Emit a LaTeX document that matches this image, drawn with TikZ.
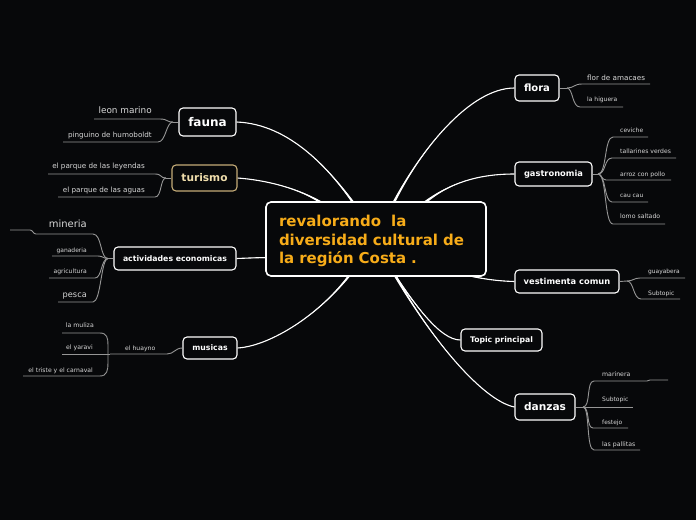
\documentclass[tikz,border=0pt]{standalone}
\usepackage{fontspec}
\setmainfont{DejaVu Sans}
\usetikzlibrary{backgrounds,calc}
\definecolor{bgc}{RGB}{7,8,10}
\definecolor{gold}{RGB}{247,172,25}
\definecolor{tanb}{RGB}{196,172,120}
\definecolor{tant}{RGB}{240,222,172}
\definecolor{subt}{RGB}{215,215,215}
\definecolor{lineg}{RGB}{150,150,150}
\newcommand\fsz[1]{\fontsize{#1pt}{#1pt}\selectfont}
\newcommand\taper[6]{%
  \fill[white] #1 .. controls #2 and #3 .. ($#4+(#5,#6)$) -- ($#4-(#5,#6)$) .. controls #3 and #2 .. #1 -- cycle;
  \draw[white,line width=1.1pt] #1 .. controls #2 and #3 .. #4;}
\begin{document}
\begin{tikzpicture}[x=1pt,y=-1pt,
  topic/.style={draw=white, line width=1.1pt, fill=bgc, rounded corners=4pt, text=white, inner sep=0pt},
  stx/.style={text=subt, inner sep=0pt, anchor=base west},
  stxl/.style={text=subt, inner sep=0pt, anchor=base east},
  sl/.style={draw=lineg, line width=0.9pt}]
\useasboundingbox (0,0) rectangle (696,520);

% central
\node[draw=white, line width=1.6pt, fill=bgc, rounded corners=5pt, minimum width=220pt, minimum height=74pt,
      text width=194pt, inner xsep=13pt, inner ysep=0pt, align=left, text=gold,
      font=\bfseries\fontsize{15pt}{18.5pt}\selectfont] (central) at (376,239)
  {\rule{0pt}{16pt}revalorando\ \ la\\diversidad cultural de\\la región Costa .};

% main topics
\node[topic, minimum width=57pt, minimum height=28pt, font=\bfseries\fsz{12}] (fauna) at (207.5,122) {fauna};
\node[topic, draw=tanb, text=tant, minimum width=65pt, minimum height=26pt, font=\bfseries\fsz{10.6}] (turismo) at (204.5,178) {turismo};
\node[topic, minimum width=122pt, minimum height=23pt, font=\bfseries\fsz{7.75}] (activ) at (175,258.5) {actividades economicas};
\node[topic, minimum width=54pt, minimum height=22pt, font=\bfseries\fsz{7.75}] (musicas) at (210,348) {musicas};
\node[topic, minimum width=44pt, minimum height=26pt, font=\bfseries\fsz{10}] (flora) at (537,88) {flora};
\node[topic, minimum width=77pt, minimum height=24pt, font=\bfseries\fsz{8.3}] (gastro) at (553.5,174) {gastronomia};
\node[topic, minimum width=104pt, minimum height=23pt, font=\bfseries\fsz{8.3}] (vesti) at (567,281.5) {vestimenta comun};
\node[topic, minimum width=81pt, minimum height=22pt, font=\bfseries\fsz{7.7}] (topicp) at (501.5,340) {Topic principal};
\node[topic, minimum width=60pt, minimum height=26pt, font=\bfseries\fsz{10.6}] (danzas) at (545,407) {danzas};

% main connectors (behind the boxes)
\begin{pgfonlayer}{background}
\fill[bgc] (0,0) rectangle (696,520);
\taper{(fauna.east)}{(290,124)}{(330,170)}{(355,205)}{1.5}{0}
\taper{(turismo.east)}{(265,180)}{(300,188)}{(325,205)}{1.0}{-1.0}
\taper{(activ.east)}{(250,258)}{(260,257.5)}{(274,257.5)}{0}{1.2}
\taper{(musicas.east)}{(270,346)}{(320,315)}{(352,272)}{1.5}{0}
\taper{(flora.west)}{(470,88)}{(420,150)}{(392,206)}{1.5}{0}
\taper{(gastro.west)}{(480,174)}{(450,182)}{(423,204)}{1.0}{1.0}
\taper{(vesti.west)}{(495,281)}{(475,278)}{(455,272)}{0}{1.2}
\taper{(topicp.west)}{(440,340)}{(415,305)}{(390,268)}{1.5}{0}
\taper{(danzas.west)}{(480,400)}{(425,330)}{(392,270)}{1.5}{0}
\end{pgfonlayer}

% flora
\coordinate (fj) at (567,88);
\draw[sl] (flora.east) -- (fj);
\draw[sl] (fj) .. controls (574,88) and (574,84) .. (582,84) -- (650,84);
\draw[sl] (fj) .. controls (573,88) and (572,107) .. (580,107) -- (623,107);
\node[stx, font=\fsz{7.2}] (fa) at (587,80) {flor de amacaes};
\node[stx, font=\fsz{6}] (hi) at (587,101) {la higuera};

% gastronomia
\coordinate (gj) at (598,174);
\draw[sl] (gastro.east) -- (gj);
\draw[sl] (gj) .. controls (607,174) and (604,137) .. (613,137) -- (648,137);
\draw[sl] (gj) .. controls (606,174) and (604,158) .. (612,158) -- (676,158);
\draw[sl] (gj) .. controls (601,174) and (602,180) .. (606,180) -- (671,180);
\draw[sl] (gj) .. controls (606,174) and (604,202) .. (612,202) -- (648,202);
\draw[sl] (gj) .. controls (607,174) and (604,224) .. (613,224) -- (665,224);
\node[stx, font=\fsz{6}] (ce) at (620,132.3) {ceviche};
\node[stx, font=\fsz{6.1}] (ta) at (620,153.7) {tallarines verdes};
\node[stx, font=\fsz{6.1}] (ar) at (620,176) {arroz con pollo};
\node[stx, font=\fsz{5.9}] (ca) at (620,197.7) {cau cau};
\node[stx, font=\fsz{6.2}] (lo) at (620,218.7) {lomo saltado};

% vestimenta
\coordinate (vj) at (627,281);
\draw[sl] (vesti.east) -- (vj);
\draw[sl] (vj) .. controls (633,281) and (634,278) .. (640,278) -- (685,278);
\draw[sl] (vj) .. controls (634,281) and (633,299) .. (641,299) -- (680,299);
\node[stx, font=\fsz{5.9}] (gu) at (648,273.3) {guayabera};
\node[stx, font=\fsz{6}] (vs) at (648,295) {Subtopic};

% danzas
\coordinate (dj) at (583,407);
\draw[sl] (danzas.east) -- (dj);
\draw[sl] (dj) .. controls (591,407) and (586,381) .. (594,381) -- (647,381) -- (650,380) -- (668,380);
\draw[sl] (dj) -- (633,407);
\draw[sl] (dj) .. controls (590,407) and (586,428) .. (593,428) -- (628,428);
\draw[sl] (dj) .. controls (590,407) and (586,450) .. (594,450) -- (640,450);
\node[stx, font=\fsz{6.2}] (ma) at (602,376.7) {marinera};
\node[stx, font=\fsz{6}] (ds) at (602,401.7) {Subtopic};
\node[stx, font=\fsz{5.9}] (fe) at (602,424) {festejo};
\node[stx, font=\fsz{6.2}] (pa) at (602,446) {las pallitas};

% fauna
\coordinate (faj) at (173,122);
\draw[sl] (fauna.west) -- (faj);
\draw[sl] (faj) .. controls (166,122) and (168,119) .. (160,119) -- (94,119);
\draw[sl] (faj) .. controls (166,122) and (166,142) .. (158,142) -- (63,142);
\node[stxl, font=\fsz{8.9}] (le) at (152,113.7) {leon marino};
\node[stxl, font=\fsz{7.2}] (pi) at (152,137.3) {pinguino de humoboldt};

% turismo
\coordinate (tj) at (166,178);
\draw[sl] (turismo.west) -- (tj);
\draw[sl] (tj) .. controls (160,178) and (162,174) .. (155,174) -- (48,174);
\draw[sl] (tj) .. controls (160,178) and (162,197) .. (155,197) -- (58,197);
\node[stxl, font=\fsz{7.2}] (pl) at (145,168.7) {el parque de las leyendas};
\node[stxl, font=\fsz{7.2}] (pg) at (145,192.7) {el parque de las aguas};

% actividades
\coordinate (aj) at (108,258.5);
\draw[sl] (activ.west) -- (aj);
\draw[sl] (aj) .. controls (100,258.5) and (102,234) .. (93,234) -- (36,234) .. controls (33,234) and (33,230) .. (30,230) -- (10,230);
\draw[sl] (aj) .. controls (103,258.5) and (103,256) .. (98,256) -- (52,256);
\draw[sl] (aj) .. controls (101,258.5) and (102,278) .. (95,278) -- (49,278);
\draw[sl] (aj) .. controls (101,258.5) and (101,302) .. (93,302) -- (58,302);
\node[stxl, font=\fsz{10}] (mi) at (87,227.7) {mineria};
\node[stxl, font=\fsz{6}] (ga) at (87,252) {ganaderia};
\node[stxl, font=\fsz{6.1}] (ag) at (87,273.7) {agricultura};
\node[stxl, font=\fsz{8.2}] (pe) at (87,297.7) {pesca};

% musicas
\coordinate (mh) at (110,354);
\coordinate (mb) at (108,354);
\draw[sl] (musicas.west) .. controls (175,348) and (174,354) .. (167,354) -- (mh);
\node[stx, font=\fsz{6.1}] (hu) at (125,350) {el huayno};
\draw[sl] (mh) -- (62,354);
\draw[sl] (mb) -- (108,345) .. controls (108,338) and (107,333) .. (100,333) -- (62,333);
\draw[sl] (mb) -- (108,363) .. controls (108,370) and (107,376) .. (100,376) -- (23,376);
\node[stxl, font=\fsz{6.2}] (mu) at (94,327.3) {la muliza};
\node[stxl, font=\fsz{6.2}] (ya) at (93,349.3) {el yaravi};
\node[stxl, font=\fsz{6.1}] (tr) at (93,372) {el triste y el carnaval};
\end{tikzpicture}
\end{document}
